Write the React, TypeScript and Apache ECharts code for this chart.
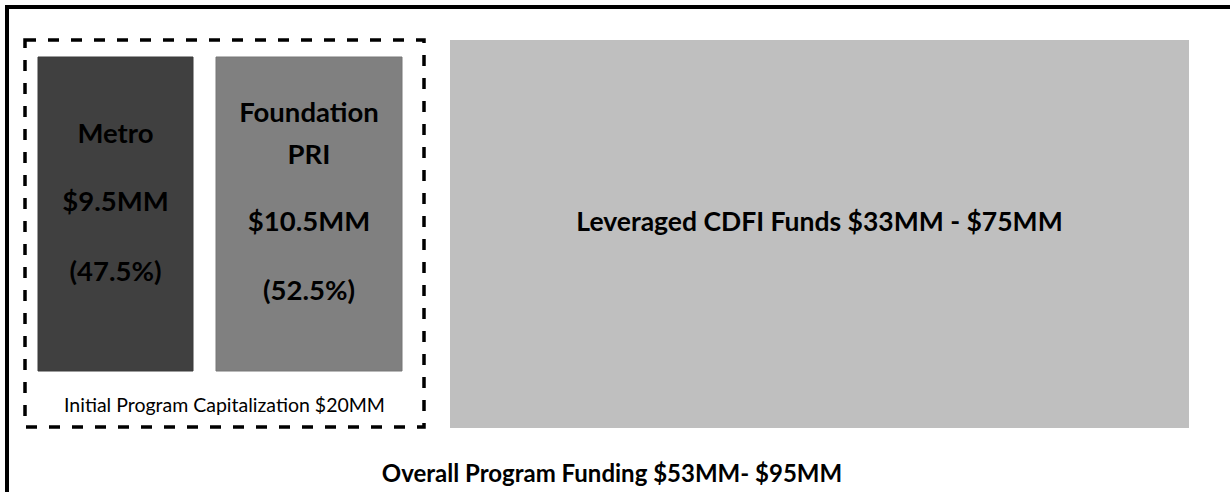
import React, { useEffect, useRef } from "react";
import * as echarts from "echarts";

// ---- Data ----
const sourceNames: string[][] = [["Metro"], ["Foundation", "PRI"]];
const sourceAmountsMM: number[] = [9.5, 10.5];
const sourceSharesPct: number[] = [47.5, 52.5];
const initialCapitalizationMM = 20;
const leveragedRangeMM: number[] = [33, 75];
const overallRangeMM: number[] = [53, 95];

// ---- Layout / style (separate from data) ----
const FONT = "Lato";
const sourceBoxes = [
  { x: 38, y: 57, w: 155, h: 314, fill: "#404040", stroke: "#3a3a3a", lines: [132, 200, 270] },
  { x: 216, y: 57, w: 186, h: 314, fill: "#808080", stroke: "#777777", lines: [111, 153, 220, 289] },
];
const leveragedBox = { x: 450, y: 40, w: 739, h: 388, fill: "#bfbfbf", textY: 221 };
const dashedBox = { x: 25, y: 40, w: 399, h: 387 };

function fmtMM(v: number) {
  return "$" + v + "MM";
}

export default function App() {
  const ref = useRef<HTMLDivElement>(null);
  useEffect(() => {
    if (!ref.current) return;
    const chart = echarts.init(ref.current, null, { renderer: "svg" });
    const elements: any[] = [];

    // outer frame (clipped on the right and bottom)
    elements.push({
      type: "rect",
      shape: { x: 7, y: 7, width: 1260, height: 520 },
      style: { fill: "none", stroke: "#000", lineWidth: 4 },
      silent: true,
    });

    // dashed box
    elements.push({
      type: "rect",
      shape: { x: dashedBox.x, y: dashedBox.y, width: dashedBox.w, height: dashedBox.h },
      style: { fill: "none", stroke: "#000", lineWidth: 3.5, lineDash: [11, 12] },
      silent: true,
    });

    // source boxes
    sourceBoxes.forEach((b, i) => {
      elements.push({
        type: "rect",
        shape: { x: b.x, y: b.y, width: b.w, height: b.h },
        style: { fill: b.fill, stroke: b.stroke, lineWidth: 1 },
      });
      const texts = [
        ...sourceNames[i],
        fmtMM(sourceAmountsMM[i]),
        "(" + sourceSharesPct[i] + "%)",
      ];
      texts.forEach((t, j) => {
        elements.push({
          type: "text",
          x: b.x + b.w / 2,
          y: b.lines[j],
          style: {
            text: t,
            fill: "#000",
            font: `bold 27.5px ${FONT}`,
            textAlign: "center",
            textVerticalAlign: "middle",
          },
        });
      });
    });

    // initial capitalization caption
    elements.push({
      type: "text",
      x: dashedBox.x + dashedBox.w / 2,
      y: 404,
      style: {
        text: "Initial Program Capitalization " + fmtMM(initialCapitalizationMM),
        fill: "#000",
        font: `19.5px ${FONT}`,
        textAlign: "center",
        textVerticalAlign: "middle",
      },
    });

    // leveraged box
    elements.push({
      type: "rect",
      shape: { x: leveragedBox.x, y: leveragedBox.y, width: leveragedBox.w, height: leveragedBox.h },
      style: { fill: leveragedBox.fill },
    });
    elements.push({
      type: "text",
      x: leveragedBox.x + leveragedBox.w / 2,
      y: leveragedBox.textY,
      style: {
        text:
          "Leveraged CDFI Funds " +
          fmtMM(leveragedRangeMM[0]) +
          " - " +
          fmtMM(leveragedRangeMM[1]),
        fill: "#000",
        font: `bold 26.5px ${FONT}`,
        textAlign: "center",
        textVerticalAlign: "middle",
      },
    });

    // overall caption
    elements.push({
      type: "text",
      x: 612,
      y: 472,
      style: {
        text: "Overall Program Funding " + fmtMM(overallRangeMM[0]) + "- " + fmtMM(overallRangeMM[1]),
        fill: "#000",
        font: `bold 24px ${FONT}`,
        textAlign: "center",
        textVerticalAlign: "middle",
      },
    });

    chart.setOption({
      animation: false,
      backgroundColor: "#ffffff",
      graphic: { elements },
    });
    return () => chart.dispose();
  }, []);
  return (
    <div
      ref={ref}
      style={{ position: "absolute", left: 0, top: 0, width: 1230, height: 492 }}
    />
  );
}
